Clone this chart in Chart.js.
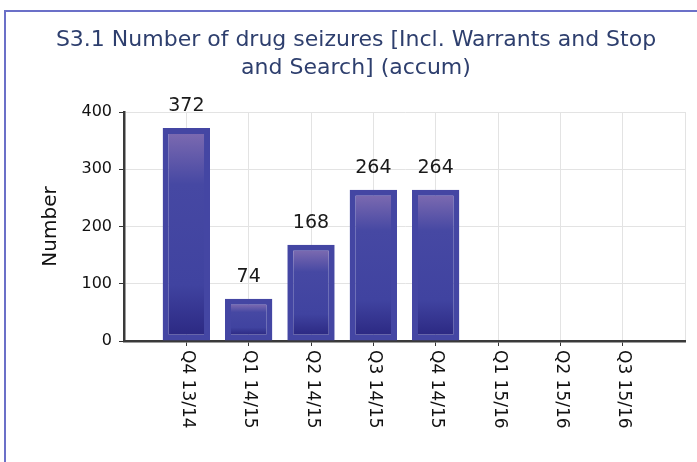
<!DOCTYPE html>
<html>
<head>
<meta charset="utf-8">
<script src="https://cdn.jsdelivr.net/npm/chart.js@4"></script>
<style>
  html, body { margin: 0; padding: 0; background: #fff; overflow: hidden; }
  #frame {
    position: absolute; left: 4px; top: 10px; width: 720px; height: 470px;
    border-left: 2px solid #6b70c8; border-top: 2px solid #6b70c8;
  }
  #wrap { position: absolute; left: 6px; top: 12px; width: 700px; height: 450px; }
</style>
</head>
<body>
<div id="frame"></div>
<div id="wrap"><canvas id="chart"></canvas></div>
<script>
const quarters = ["Q4 13/14", "Q1 14/15", "Q2 14/15", "Q3 14/15", "Q4 14/15", "Q1 15/16", "Q2 15/16", "Q3 15/16"];
const seizures = [372, 74, 168, 264, 264, null, null, null];
const yTicks = [0, 100, 200, 300, 400];

const FONT = "'DejaVu Sans', sans-serif";

// bar inner fill: light purple at the top, navy at the foot
function barFill(ctx) {
  const chart = ctx.chart;
  const v = ctx.raw && ctx.raw.y;
  if (v == null || !chart.chartArea) return "#4446a3";
  const y = chart.scales.y;
  const top = y.getPixelForValue(v) + 6;
  const bottom = y.getPixelForValue(0) - 6;
  const g = chart.ctx.createLinearGradient(0, top, 0, bottom);
  g.addColorStop(0, "#7a69b0");
  g.addColorStop(0.25, "#4648a3");
  g.addColorStop(0.75, "#4043a0");
  g.addColorStop(1, "#2c2983");
  return g;
}

// value above each bar
const valueLabels = {
  id: "valueLabels",
  afterDatasetsDraw(chart) {
    const c = chart.ctx;
    const meta = chart.getDatasetMeta(0);
    c.save();
    c.font = "19px " + FONT;
    c.fillStyle = "#1a1a1a";
    c.textAlign = "center";
    c.textBaseline = "bottom";
    meta.data.forEach((bar, i) => {
      const v = seizures[i];
      if (v == null) return;
      c.fillText(String(v), bar.x, bar.y - 12);
    });
    c.restore();
  }
};

// category labels read downwards below the axis
const xLabels = {
  id: "xLabels",
  afterDraw(chart) {
    const c = chart.ctx;
    const x = chart.scales.x;
    c.save();
    c.font = "17px " + FONT;
    c.fillStyle = "#111";
    c.textAlign = "left";
    c.textBaseline = "middle";
    quarters.forEach((q, i) => {
      const px = x.getPixelForValue(i + 1);
      c.save();
      c.translate(px + 1, x.top + 9);
      c.rotate(Math.PI / 2);
      c.fillText(q, 0, 0);
      c.restore();
    });
    c.restore();
  }
};

new Chart(document.getElementById("chart"), {
  type: "bar",
  data: {
    datasets: [{
      data: seizures.map((v, i) => ({ x: i + 1, y: v })),
      backgroundColor: barFill,
      borderColor: "#4446a3",
      borderWidth: 6,
      borderSkipped: false,
      barPercentage: 0.76,
      categoryPercentage: 1
    }]
  },
  options: {
    responsive: true,
    maintainAspectRatio: false,
    animation: false,
    layout: { padding: { left: 21, right: 21, top: 0, bottom: 0 } },
    plugins: {
      legend: { display: false },
      tooltip: { enabled: false },
      title: {
        display: true,
        text: ["S3.1 Number of drug seizures [Incl. Warrants and Stop", "and Search] (accum)"],
        color: "#2e3f6e",
        font: { family: FONT, size: 22, weight: "normal", lineHeight: 1.25 },
        padding: { top: 15, bottom: 30 }
      }
    },
    scales: {
      x: {
        type: "linear",
        offset: false,
        min: 0,
        max: 9,
        afterBuildTicks(scale) {
          scale.ticks = [];
          for (let i = 0; i <= 9; i++) scale.ticks.push({ value: i });
        },
        afterFit(scale) { scale.height = 121; },
        ticks: { display: false },
        grid: {
          offset: false,
          color: "#e3e3e3",
          tickColor: ctx => (ctx.tick && ctx.tick.value > 0 && ctx.tick.value < 9) ? "#333" : "rgba(0,0,0,0)",
          tickLength: 5,
          lineWidth: 1
        },
        border: { color: "#3a3a3a", width: 2.5 }
      },
      y: {
        min: 0,
        max: 400,
        afterBuildTicks(scale) {
          scale.ticks = yTicks.map(v => ({ value: v }));
        },
        afterFit(scale) { scale.width = 97; },
        ticks: {
          color: "#111",
          font: { family: FONT, size: 16 },
          padding: 7
        },
        grid: { color: "#e3e3e3", tickColor: "#333", tickLength: 5, lineWidth: 1 },
        border: { color: "#3a3a3a", width: 2.5 },
        title: {
          display: true,
          text: "Number",
          color: "#111",
          font: { family: FONT, size: 20 },
          padding: { top: 12, bottom: 0 }
        }
      }
    }
  },
  plugins: [valueLabels, xLabels]
});
</script>
</body>
</html>
